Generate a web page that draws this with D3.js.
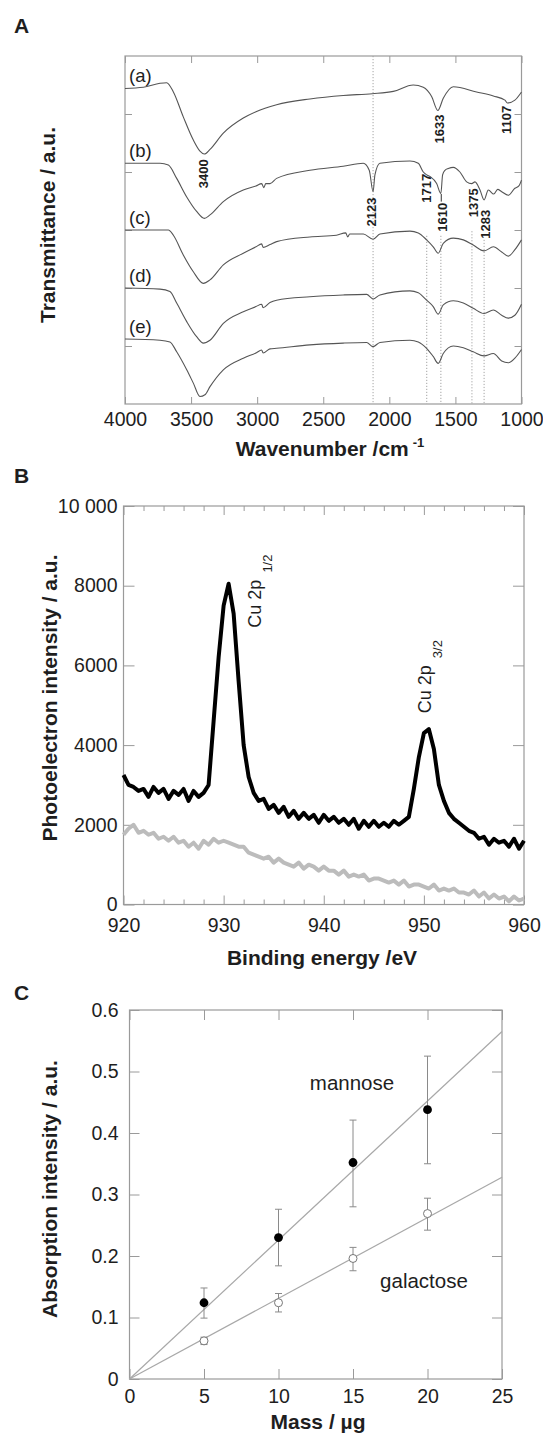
<!DOCTYPE html>
<html>
<head>
<meta charset="utf-8">
<script src="https://cdn.jsdelivr.net/npm/d3@7"></script>
<style>
  body { margin: 0; background: #fff; }
  svg { display: block; font-family: "Liberation Sans", Arial, Helvetica, sans-serif; }
</style>
</head>
<body>
<div id="chart"></div>
<script>
// ---------- Panel A: IR spectra (a)-(e), [wavenumber, transmittance a.u. incl. offset] ----------
var irA = [[4000,5.44],[3861,5.46],[3735,5.53],[3685,5.54],[3634,5.38],[3559,4.95],[3483,4.55],[3433,4.36],
  [3400,4.31],[3357,4.39],[3256,4.67],[3105,4.93],[3009,5.04],[2853,5.16],[2601,5.26],[2349,5.32],[2129,5.35],
  [1970,5.39],[1819,5.50],[1743,5.46],[1680,5.30],[1633,5.06],[1592,5.27],[1516,5.47],[1340,5.38],[1213,5.31],
  [1125,5.24],[1107,5.19],[1050,5.24],[1000,5.38]];
var irB = [[4000,4.15],[3735,4.15],[3672,4.12],[3609,3.89],[3533,3.57],[3458,3.32],[3400,3.20],[3357,3.26],
  [3256,3.49],[3105,3.69],[3009,3.76],[2966,3.80],[2950,3.73],[2935,3.80],[2903,3.80],[2853,3.89],[2601,4.03],
  [2349,4.10],[2197,4.15],[2152,4.03],[2123,3.66],[2109,3.95],[2071,4.15],[1844,4.19],[1781,4.15],[1743,4.00],
  [1717,3.95],[1690,3.92],[1642,3.80],[1610,3.63],[1597,3.95],[1579,4.03],[1554,4.06],[1516,4.08],[1466,4.00],
  [1415,3.83],[1377,3.80],[1352,3.83],[1314,3.69],[1283,3.52],[1251,3.69],[1210,3.62],[1180,3.70],[1150,3.66],
  [1100,3.60],[1050,3.72],[1020,3.76],[1000,3.86]];
var irC = [[4000,3.00],[3672,3.00],[3634,2.91],[3559,2.57],[3483,2.28],[3407,2.08],[3357,2.14],[3256,2.40],
  [3105,2.60],[3009,2.71],[2966,2.76],[2955,2.70],[2903,2.75],[2853,2.80],[2601,2.88],[2400,2.91],[2330,2.95],
  [2315,2.88],[2300,2.93],[2197,2.93],[2123,2.84],[2071,2.93],[1844,2.98],[1781,2.95],[1718,2.83],[1668,2.71],
  [1630,2.60],[1592,2.77],[1516,2.86],[1440,2.83],[1365,2.74],[1283,2.64],[1213,2.71],[1150,2.62],[1100,2.55],
  [1050,2.66],[1000,2.83]];
var irD = [[4000,2.00],[3735,1.98],[3660,1.94],[3609,1.74],[3533,1.42],[3458,1.16],[3407,1.05],[3357,1.10],
  [3256,1.39],[3105,1.59],[3009,1.68],[2966,1.72],[2955,1.66],[2903,1.75],[2853,1.79],[2601,1.85],[2349,1.88],
  [2172,1.89],[2123,1.81],[2071,1.88],[1844,1.95],[1781,1.92],[1718,1.79],[1668,1.68],[1630,1.55],[1592,1.71],
  [1516,1.78],[1440,1.74],[1365,1.65],[1283,1.56],[1213,1.62],[1150,1.53],[1100,1.48],[1050,1.53],[1000,1.72]];
var irE = [[4000,1.12],[3735,1.10],[3660,1.07],[3609,0.90],[3533,0.59],[3483,0.36],[3433,0.13],[3395,0.16],
  [3357,0.30],[3256,0.59],[3105,0.79],[3009,0.88],[2966,0.93],[2955,0.88],[2903,0.95],[2853,0.96],[2601,1.02],
  [2349,1.05],[2172,1.06],[2123,0.99],[2071,1.06],[1844,1.10],[1781,1.07],[1718,0.96],[1668,0.82],[1630,0.70],
  [1592,0.87],[1516,1.00],[1440,0.97],[1365,0.90],[1283,0.83],[1213,0.87],[1150,0.74],[1100,0.71],[1050,0.79],
  [1000,0.94]];
var irNames = ["(a)", "(b)", "(c)", "(d)", "(e)"];
var irTicks = [4000, 3500, 3000, 2500, 2000, 1500, 1000];
var irPeaks = [3400, 1633, 1107, 2123, 1717, 1610, 1375, 1283];
var irGuides = [2123, 1717, 1610, 1375, 1283];

// ---------- Panel B: XPS Cu 2p ----------
var xpsEnergy = [920,920.5,921,921.5,922,922.5,923,923.5,924,924.5,
  925,925.5,926,926.5,927,927.5,928,928.5,929,929.5,
  930,930.5,931,931.5,932,932.5,933,933.5,934,934.5,
  935,935.5,936,936.5,937,937.5,938,938.5,939,939.5,
  940,940.5,941,941.5,942,942.5,943,943.5,944,944.5,
  945,945.5,946,946.5,947,947.5,948,948.5,949,949.5,
  950,950.5,951,951.5,952,952.5,953,953.5,954,954.5,
  955,955.5,956,956.5,957,957.5,958,958.5,959,959.5,
  960];
var xpsSample = [3250,3000,2950,2850,2900,2700,2950,2800,2900,2650,
  2850,2750,2900,2600,2850,2700,2800,3000,4600,6200,
  7500,8050,7300,5600,4000,3200,2800,2600,2650,2400,
  2500,2300,2450,2200,2350,2150,2300,2150,2250,2050,
  2250,2100,2200,2050,2150,2000,2150,1900,2100,1950,
  2100,1950,2050,1950,2100,2000,2100,2200,2900,3700,
  4300,4400,3900,3000,2600,2300,2150,2050,1950,1850,
  1800,1650,1700,1500,1650,1550,1600,1450,1650,1400,
  1600];
var xpsBlank = [1750,1900,2000,1800,1850,1750,1800,1650,1700,1600,
  1700,1550,1600,1450,1550,1400,1600,1500,1650,1550,
  1600,1550,1500,1450,1450,1300,1250,1200,1150,1200,
  1050,1150,1050,1000,950,1050,900,1000,950,850,
  950,850,850,750,850,700,750,700,750,600,
  650,650,600,550,600,500,600,450,500,500,
  450,400,500,350,400,350,400,300,300,250,
  350,200,300,150,250,150,200,80,200,100,
  150];
var xpsYTicks = [0, 2000, 4000, 6000, 8000, 10000];
var xpsXTicks = [920, 930, 940, 950, 960];
var xpsXMinor = [922,924,926,928,932,934,936,938,942,944,946,948,952,954,956,958];

// ---------- Panel C: calibration ----------
var massX = [5, 10, 15, 20];
var mannoseY = [0.124, 0.230, 0.352, 0.438];
var mannoseLo = [0.099, 0.184, 0.280, 0.350];
var mannoseHi = [0.148, 0.276, 0.421, 0.525];
var galactoseY = [0.062, 0.124, 0.196, 0.269];
var galactoseLo = [0.056, 0.109, 0.176, 0.242];
var galactoseHi = [0.068, 0.139, 0.214, 0.294];
var fitX = [0, 25];
var mannoseFit = [0, 0.565];
var galactoseFit = [0, 0.328];
var massTicks = [0, 5, 10, 15, 20, 25];
var absTicks = [0, 0.1, 0.2, 0.3, 0.4, 0.5, 0.6];

var frameColor = "#9a9a9a", textColor = "#1e1e1e";

var svg = d3.select("#chart").append("svg").attr("width", 543).attr("height", 1436);
svg.append("rect").attr("width", 543).attr("height", 1436).attr("fill", "#fff");

function frame(x, y) {
  var x0 = x.range()[0], x1 = x.range()[1], y0 = y.range()[1], y1 = y.range()[0];
  svg.append("rect").attr("x", x0).attr("y", y0).attr("width", x1 - x0).attr("height", y1 - y0)
    .attr("fill", "none").attr("stroke", frameColor).attr("stroke-width", 1.2);
}

// inward ticks; labels only when asked
function ticks(axis, transform, size, pad, labels) {
  var g = svg.append("g").attr("transform", transform)
    .call(axis.tickSizeInner(-size).tickSizeOuter(0).tickPadding(pad));
  g.attr("font-family", null).attr("font-size", null);
  g.select(".domain").remove();
  g.selectAll("line").attr("stroke", frameColor).attr("stroke-width", 1);
  if (labels) g.selectAll("text").attr("fill", textColor).style("font-size", "19.5px");
  else g.selectAll("text").remove();
  return g;
}

function panelLetter(t, y) {
  svg.append("text").attr("x", 14).attr("y", y).text(t)
    .style("font-weight", "bold").style("font-size", "21px").attr("fill", textColor);
}

function yTitle(t, x, y) {
  svg.append("text").attr("transform", "translate(" + x + "," + y + ") rotate(-90)")
    .attr("text-anchor", "middle").attr("dy", "0.35em").text(t)
    .style("font-weight", "bold").style("font-size", "21px").attr("fill", textColor);
}

function xTitle(x, y) {
  return svg.append("text").attr("x", x).attr("y", y).attr("text-anchor", "middle")
    .style("font-weight", "bold").style("font-size", "21px").attr("fill", textColor);
}

// ================= Panel A =================
var xA = d3.scaleLinear().domain([4000, 1000]).range([125, 521.5]);
var yA = d3.scaleLinear().domain([0, 6]).range([404, 56]);

// dotted guide lines (top end in a.u.)
var guideFrom = [6, 2.9, 2.9, 2.98, 2.83];
irGuides.forEach(function(w, i) {
  svg.append("line").attr("x1", xA(w)).attr("x2", xA(w))
    .attr("y1", yA(guideFrom[i])).attr("y2", yA(0))
    .attr("stroke", "#9a9a9a").attr("stroke-width", 0.9).attr("stroke-dasharray", "1.2,1.8");
});

frame(xA, yA);
ticks(d3.axisBottom(xA).tickValues(irTicks).tickFormat(d3.format("d")), "translate(0," + yA(0) + ")", 7, 8, true);
ticks(d3.axisTop(xA).tickValues(irTicks), "translate(0," + yA(6) + ")", 7, 0, false);
ticks(d3.axisLeft(yA).tickValues([1, 2, 3, 4, 5]), "translate(" + xA(4000) + ",0)", 7, 0, false);
ticks(d3.axisRight(yA).tickValues([1, 2, 3, 4, 5]), "translate(" + xA(1000) + ",0)", 7, 0, false);

var irLine = d3.line().x(function(d) { return xA(d[0]); }).y(function(d) { return yA(d[1]); })
  .curve(d3.curveMonotoneX);
[irA, irB, irC, irD, irE].forEach(function(s, i) {
  svg.append("path").attr("d", irLine(s)).attr("fill", "none")
    .attr("stroke", "#555").attr("stroke-width", 1.1);
  svg.append("text").attr("x", 129).attr("y", yA(s[0][1]) - 6.5).text(irNames[i])
    .style("font-size", "18.5px").attr("fill", textColor);
});

// peak labels, centre of rotated text [wavenumber, a.u.]
var peakAt = [[3410, 3.97], [1620, 4.74], [1118, 4.90], [2134, 3.31], [1723, 3.72], [1597, 3.22], [1366, 3.47], [1277, 3.10]];
irPeaks.forEach(function(p, i) {
  svg.append("text")
    .attr("transform", "translate(" + xA(peakAt[i][0]) + "," + yA(peakAt[i][1]) + ") rotate(-90)")
    .attr("text-anchor", "middle").attr("dy", "0.36em").text(p)
    .style("font-weight", "bold").style("font-size", "13px").attr("fill", textColor);
});
svg.append("line").attr("x1", xA(1607)).attr("x2", xA(1607)).attr("y1", yA(3.62)).attr("y2", yA(3.49))
  .attr("stroke", "#333").attr("stroke-width", 1);

panelLetter("A", 33);
yTitle("Transmittance / a.u.", 48, 225);
var tA = xTitle(330, 456);
tA.append("tspan").text("Wavenumber /cm");
tA.append("tspan").attr("dx", 4).attr("dy", -9).style("font-size", "13px").text("-1");

// ================= Panel B =================
var xB = d3.scaleLinear().domain([920, 960]).range([123.5, 524]);
var yB = d3.scaleLinear().domain([0, 10000]).range([904.5, 506]);

frame(xB, yB);
ticks(d3.axisBottom(xB).tickValues(xpsXTicks).tickFormat(d3.format("d")), "translate(0," + yB(0) + ")", 9, 13.5, true);
ticks(d3.axisBottom(xB).tickValues(xpsXMinor), "translate(0," + yB(0) + ")", 5, 0, false);
ticks(d3.axisTop(xB).tickValues(xpsXTicks), "translate(0," + yB(10000) + ")", 9, 0, false);
ticks(d3.axisTop(xB).tickValues(xpsXMinor), "translate(0," + yB(10000) + ")", 5, 0, false);
ticks(d3.axisLeft(yB).tickValues(xpsYTicks).tickFormat(function(d) { return d === 10000 ? "10 000" : d; }),
  "translate(" + xB(920) + ",0)", 11, 6, true);
ticks(d3.axisRight(yB).tickValues(xpsYTicks), "translate(" + xB(960) + ",0)", 11, 0, false);

var xpsLine = function(vals) {
  return d3.line().x(function(d, i) { return xB(xpsEnergy[i]); }).y(function(d) { return yB(d); })(vals);
};
svg.append("path").attr("d", xpsLine(xpsBlank)).attr("fill", "none")
  .attr("stroke", "#bcbcbc").attr("stroke-width", 4).attr("stroke-linejoin", "round");
svg.append("path").attr("d", xpsLine(xpsSample)).attr("fill", "none")
  .attr("stroke", "#000").attr("stroke-width", 4).attr("stroke-linejoin", "round");

// peak names: [energy of baseline, intensity at start of text]
var cuLabels = [["1/2", 933.7, 6947], ["3/2", 950.7, 4799]];
cuLabels.forEach(function(c) {
  var t = svg.append("text")
    .attr("transform", "translate(" + xB(c[1]) + "," + yB(c[2]) + ") rotate(-90)")
    .style("font-size", "18px").attr("fill", textColor);
  t.append("tspan").text("Cu 2p");
  t.append("tspan").attr("dx", 7).attr("dy", 11).style("font-size", "13px").text(c[0]);
});

panelLetter("B", 483);
yTitle("Photoelectron intensity / a.u.", 50, 698);
xTitle(322, 965).text("Binding energy /eV");

// ================= Panel C =================
var xC = d3.scaleLinear().domain([0, 25]).range([129.5, 502]);
var yC = d3.scaleLinear().domain([0, 0.6]).range([1379, 1010]);

frame(xC, yC);
ticks(d3.axisBottom(xC).tickValues(massTicks), "translate(0," + yC(0) + ")", 10, 10, true);
ticks(d3.axisTop(xC).tickValues(massTicks), "translate(0," + yC(0.6) + ")", 10, 0, false);
ticks(d3.axisLeft(yC).tickValues(absTicks).tickFormat(function(d) { return d === 0 ? "0" : d3.format(".1f")(d); }),
  "translate(" + xC(0) + ",0)", 10, 11, true);
ticks(d3.axisRight(yC).tickValues(absTicks), "translate(" + xC(25) + ",0)", 10, 0, false);

var fitLine = d3.line().x(function(d, i) { return xC(fitX[i]); }).y(function(d) { return yC(d); });
[mannoseFit, galactoseFit].forEach(function(f) {
  svg.append("path").attr("d", fitLine(f)).attr("fill", "none")
    .attr("stroke", "#a8a8a8").attr("stroke-width", 1.2);
});

function errorBars(lo, hi) {
  massX.forEach(function(m, i) {
    var g = svg.append("g").attr("stroke", "#8a8a8a").attr("stroke-width", 1);
    g.append("line").attr("x1", xC(m)).attr("x2", xC(m)).attr("y1", yC(lo[i])).attr("y2", yC(hi[i]));
    [lo[i], hi[i]].forEach(function(v) {
      g.append("line").attr("x1", xC(m) - 3.5).attr("x2", xC(m) + 3.5).attr("y1", yC(v)).attr("y2", yC(v));
    });
  });
}
errorBars(mannoseLo, mannoseHi);
errorBars(galactoseLo, galactoseHi);

svg.selectAll(".gal").data(galactoseY).enter().append("circle")
  .attr("cx", function(d, i) { return xC(massX[i]); }).attr("cy", function(d) { return yC(d); })
  .attr("r", 4).attr("fill", "#fff").attr("stroke", "#777").attr("stroke-width", 1);
svg.selectAll(".man").data(mannoseY).enter().append("circle")
  .attr("cx", function(d, i) { return xC(massX[i]); }).attr("cy", function(d) { return yC(d); })
  .attr("r", 4.4).attr("fill", "#000");

svg.append("text").attr("x", 352).attr("y", 1090).attr("text-anchor", "middle").text("mannose")
  .style("font-size", "20.5px").attr("fill", textColor);
svg.append("text").attr("x", 424).attr("y", 1288).attr("text-anchor", "middle").text("galactose")
  .style("font-size", "20.5px").attr("fill", textColor);

panelLetter("C", 1000);
yTitle("Absorption intensity / a.u.", 50, 1189);
xTitle(318, 1429).text("Mass / \u00b5g");
</script>
</body>
</html>
